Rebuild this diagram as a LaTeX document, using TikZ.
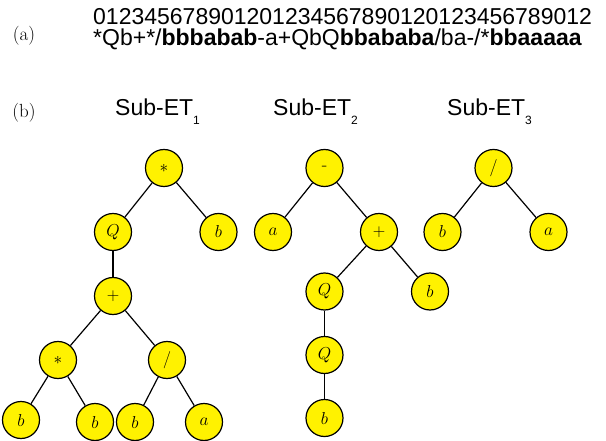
\documentclass[tikz,border=0pt]{standalone}
\usepackage{fontspec}
\newfontfamily\arialfont{Liberation Sans}
\begin{document}
\begin{tikzpicture}[x=1pt,y=-1pt,
  tn/.style={circle,draw=black,fill=yellow,line width=1.2pt,minimum size=37pt,inner sep=0pt,font=\fontsize{18}{18}\selectfont},
  edge/.style={line width=1.2pt,black},
  ttl/.style={anchor=base west,inner sep=0pt,font=\arialfont\fontsize{23}{23}\selectfont},
  lbl/.style={inner sep=0pt,font=\fontsize{19}{19}\selectfont},
  seq/.style={anchor=base west,inner sep=0pt,font=\arialfont\fontsize{23}{23}\selectfont}]
\useasboundingbox (0,0) rectangle (606,441);
\newcommand{\subnum}[1]{\raisebox{-9pt}{\fontsize{12}{12}\selectfont #1}}
% (a)
\node[lbl] (la) at (24,36) {(a)};
\node[seq] (s1) at (93,25) {012345678901201234567890120123456789012};
\node[seq] (s2) at (93,46) {*Qb+*/\textbf{bbbabab}-a+QbQ\textbf{bbababa}/ba-/*\textbf{bbaaaaa}};
% (b)
\node[lbl] (lb) at (24,113) {(b)};
\node[ttl] (t1) at (115,116) {Sub-ET\subnum{1}};
\node[ttl] (t2) at (273,116) {Sub-ET\subnum{2}};
\node[ttl] (t3) at (447,116) {Sub-ET\subnum{3}};
% tree 1
\node[tn] (a1) at (164,168) {$*$};
\node[tn] (a2) at (113,232) {$Q$};
\node[tn] (a3) at (218.5,232) {$b$};
\node[tn] (a4) at (113,296) {$+$};
\node[tn] (a5) at (58,360) {$*$};
\node[tn] (a6) at (167,360) {$/$};
\node[tn] (a7) at (21,420) {$b$};
\node[tn] (a8) at (95,422) {$b$};
\node[tn] (a9) at (135,422) {$b$};
\node[tn] (a10) at (204,422) {$a$};
\draw[edge] (a1) -- (a2);
\draw[edge] (a1) -- (a3);
\draw[edge] (a2) -- (a4);
\draw[edge] (a4) -- (a5);
\draw[edge] (a4) -- (a6);
\draw[edge] (a5) -- (a7);
\draw[edge] (a5) -- (a8);
\draw[edge] (a6) -- (a9);
\draw[edge] (a6) -- (a10);
% tree 2
\node[tn] (b1) at (324.5,168) {-};
\node[tn] (b2) at (273,232) {$a$};
\node[tn] (b3) at (379,232) {$+$};
\node[tn] (b4) at (324.5,291.5) {$Q$};
\node[tn] (b5) at (430,291.5) {$b$};
\node[tn] (b6) at (324.5,355) {$Q$};
\node[tn] (b7) at (324.5,418) {$b$};
\draw[edge] (b1) -- (b2);
\draw[edge] (b1) -- (b3);
\draw[edge] (b3) -- (b4);
\draw[edge] (b3) -- (b5);
\draw[edge] (b4) -- (b6);
\draw[edge] (b6) -- (b7);
% tree 3
\node[tn] (c1) at (493.5,168) {$/$};
\node[tn] (c2) at (442.5,232) {$b$};
\node[tn] (c3) at (548.5,232) {$a$};
\draw[edge] (c1) -- (c2);
\draw[edge] (c1) -- (c3);
\end{tikzpicture}
\end{document}
